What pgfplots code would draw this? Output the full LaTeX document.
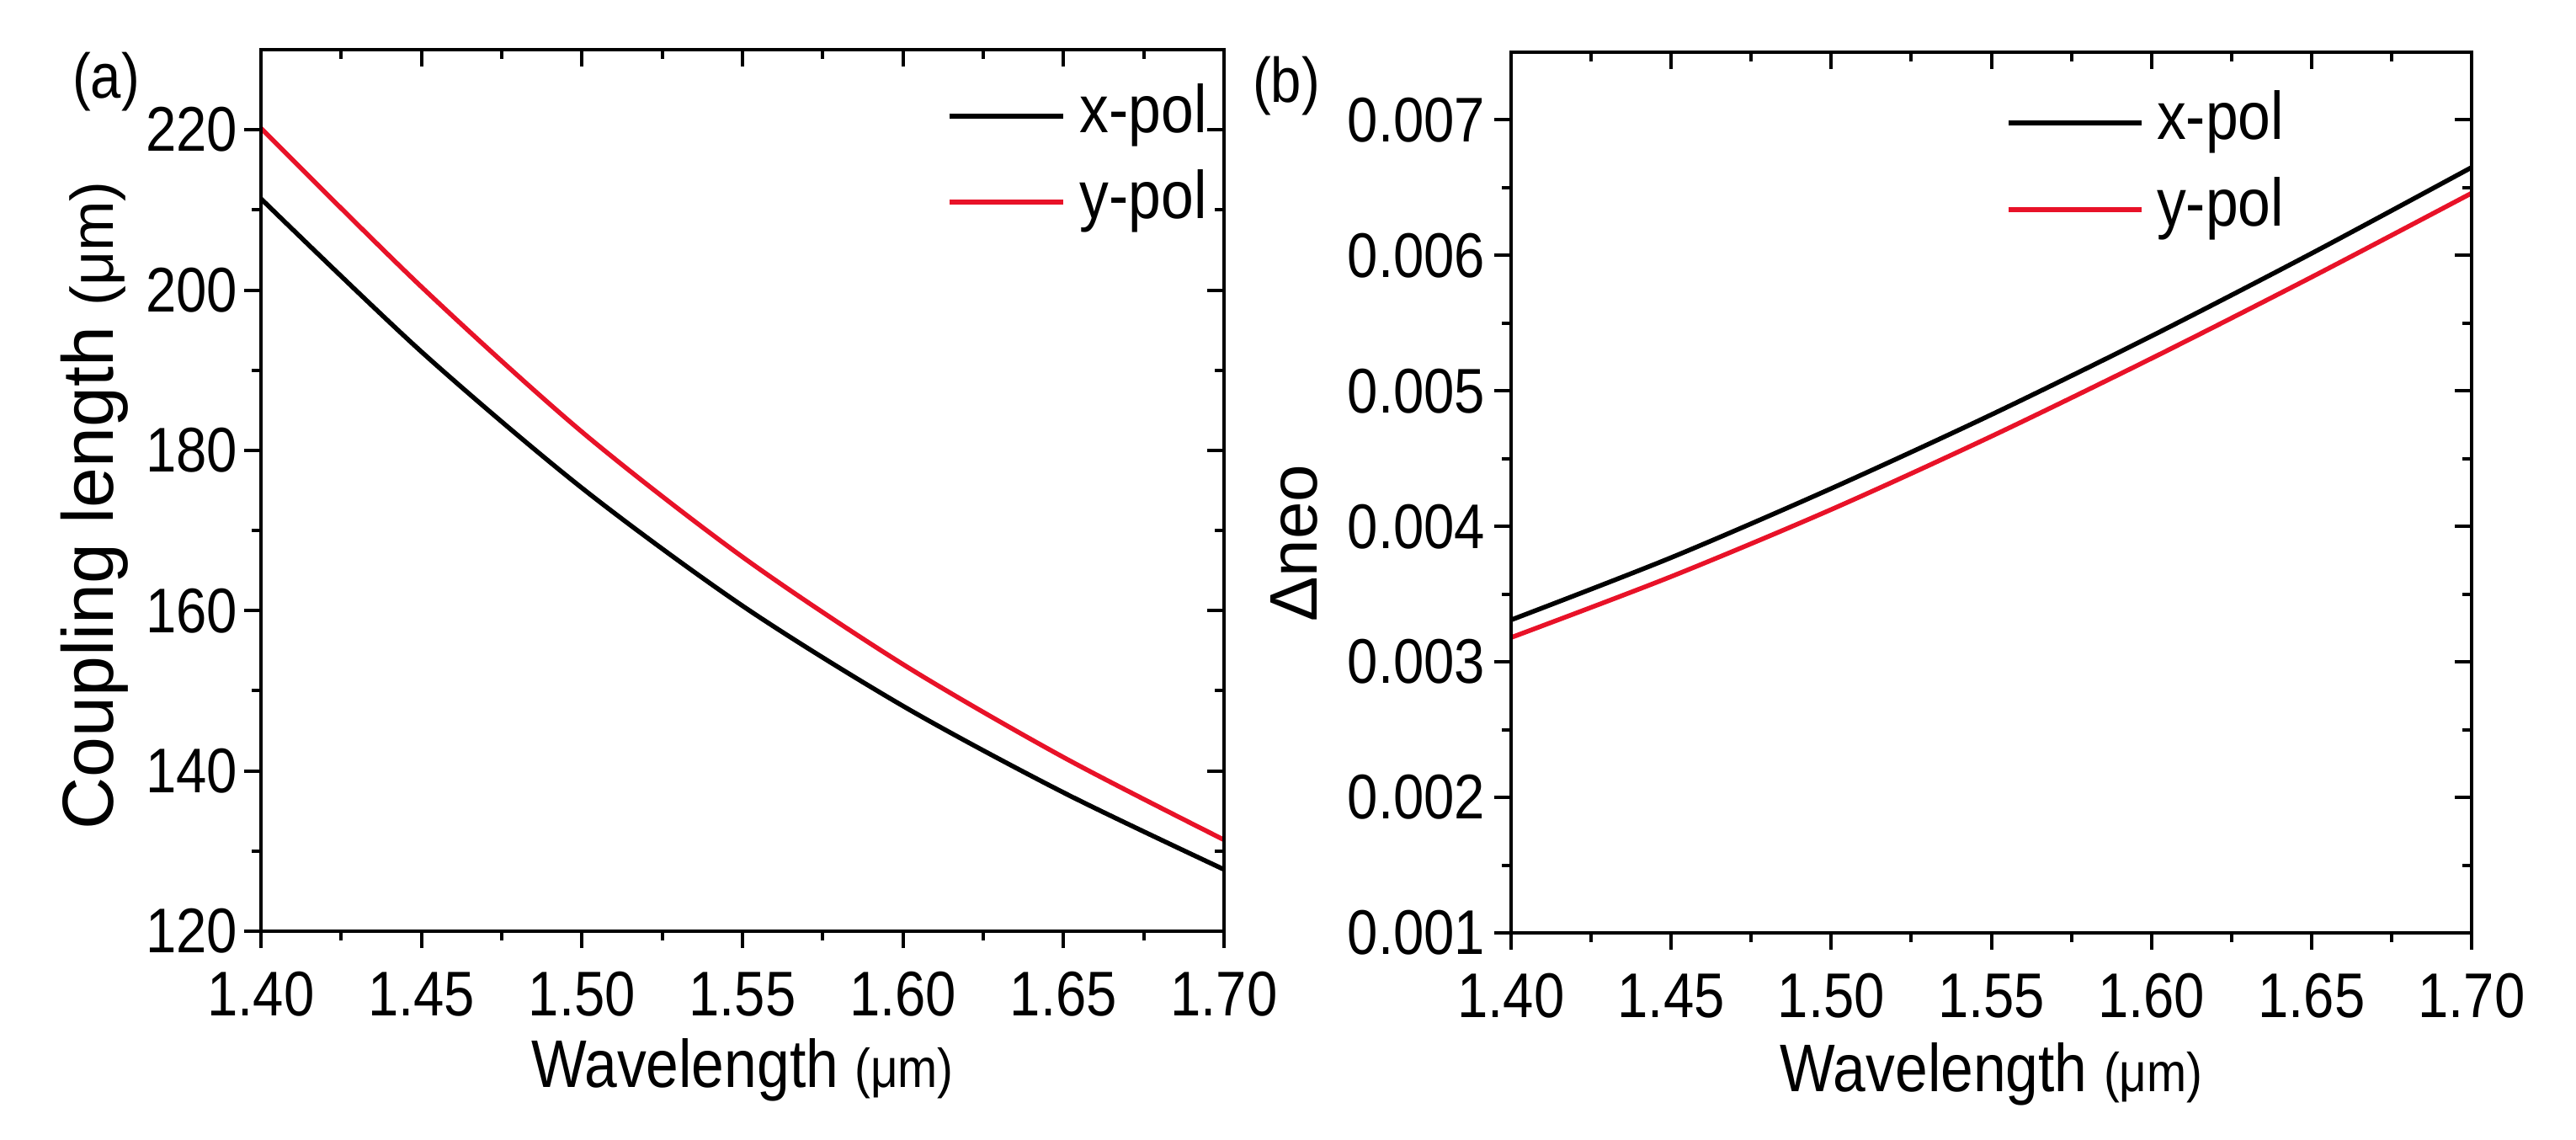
\documentclass[border=0pt]{standalone}
\usepackage{fontspec}
\setmainfont{Liberation Sans}[FakeStretch=0.87]
\newfontfamily\rotfont{Liberation Sans}
\usepackage{pgfplots}
\pgfplotsset{compat=1.18}
\definecolor{myred}{RGB}{232,18,40}

\pgfplotsset{
  base/.style={
    scale only axis, width=228.8pt, height=209.4pt,
    xmin=1.4, xmax=1.7,
    axis line style={line width=0.9pt},
    every tick/.style={line width=0.8pt, black},
    major tick length=4pt, minor tick length=2.2pt,
    minor x tick num=1, minor y tick num=1,
    clip=false,
    xtick={1.40,1.45,1.50,1.55,1.60,1.65,1.70},
    ticklabel style={font=\fontsize{15}{18}\selectfont},
  },
  lab/.style={
    /pgf/number format/assume math mode=true,
    xtick pos=left, ytick pos=left, tick align=outside,
    xticklabels={1.40,1.45,1.50,1.55,1.60,1.65,1.70},
    xticklabel style={inner sep=0pt, anchor=north, yshift=-5.5pt},
  },
  mirror/.style={
    xtick pos=right, ytick pos=right, tick align=inside,
    xticklabels={}, yticklabels={},
  },
  leg/.style 2 args={
    legend style={draw=none, fill=none, at={(axis description cs:#1)},
      anchor=north west, inner sep=0pt, row sep=#2,
      font=\fontsize{16}{19}\selectfont,
      nodes={inner sep=1pt, text height=12pt, text depth=4pt}},
    legend cell align=left,
  },
}

\begin{document}
\begin{tikzpicture}
\path[use as bounding box] (0,0) rectangle (612pt,270.6pt);

% ---------------- panel (a) ----------------
\begin{axis}[base, lab, at={(62pt,49.4pt)}, anchor=south west,
  ymin=120, ymax=230,
  ytick={120,140,160,180,200,220},
  yticklabels={120,140,160,180,200,220},
  yticklabel style={inner sep=0pt, anchor=east, xshift=-1.4pt},
  leg={0.7115,0.9685}{2.4pt},
  legend style={/tikz/every odd column/.append style={column sep=2.5pt}},
  legend image code/.code={\draw[#1] (0pt,0pt) -- (27pt,0pt);},
]
\addplot[black, line width=1.1pt, smooth] coordinates {
 (1.40,211.4) (1.45,192.3) (1.50,175.3) (1.55,160.6) (1.60,148.1) (1.65,137.3) (1.70,127.7)};
\addlegendentry{x-pol}
\addplot[myred, line width=1.1pt, smooth] coordinates {
 (1.40,220.2) (1.45,200.4) (1.50,182.3) (1.55,166.7) (1.60,153.3) (1.65,141.7) (1.70,131.4)};
\addlegendentry{y-pol}
\node[rotate=90, anchor=center] at (axis description cs:-0.173,0.483)
  {\rotfont\fontsize{17.2}{21}\selectfont Coupling length {\fontsize{14.3}{17}\selectfont(μm)}};
\node[anchor=center] at (axis description cs:0.5,-0.157)
  {\fontsize{16}{19}\selectfont Wavelength {\fontsize{13}{15}\selectfont(μm)}};
\end{axis}
\begin{axis}[base, mirror, at={(62pt,49.4pt)}, anchor=south west,
  ymin=120, ymax=230, ytick={120,140,160,180,200,220}]
\end{axis}

% ---------------- panel (b) ----------------
\begin{axis}[base, lab, at={(359pt,49pt)}, anchor=south west,
  width=228.2pt, height=209.2pt,
  ymin=0.001, ymax=0.0075,
  ytick={0.001,0.002,0.003,0.004,0.005,0.006,0.007},
  yticklabels={0.001,0.002,0.003,0.004,0.005,0.006,0.007},
  scaled y ticks=false,
  yticklabel style={inner sep=0pt, anchor=east, xshift=-2pt},
  leg={0.5145,0.9637}{2.6pt},
  legend style={/tikz/every odd column/.append style={column sep=2.1pt}},
  legend image code/.code={\draw[#1] (0pt,0pt) -- (31.6pt,0pt);},
]
\addplot[black, line width=1.1pt, smooth] coordinates {
 (1.40,0.00331) (1.45,0.00377) (1.50,0.00428) (1.55,0.004825) (1.60,0.005405) (1.65,0.006015) (1.70,0.00665)};
\addlegendentry{x-pol}
\addplot[myred, line width=1.1pt, smooth] coordinates {
 (1.40,0.00318) (1.45,0.00363) (1.50,0.004125) (1.55,0.004665) (1.60,0.00524) (1.65,0.00584) (1.70,0.00646)};
\addlegendentry{y-pol}
\node[rotate=90, anchor=center] at (axis description cs:-0.226,0.4425)
  {\rotfont\fontsize{16}{19}\selectfont Δneo};
\node[anchor=center] at (axis description cs:0.5,-0.160)
  {\fontsize{16}{19}\selectfont Wavelength {\fontsize{13}{15}\selectfont(μm)}};
\end{axis}
\begin{axis}[base, mirror, at={(359pt,49pt)}, anchor=south west,
  width=228.2pt, height=209.2pt,
  ymin=0.001, ymax=0.0075, scaled y ticks=false,
  ytick={0.001,0.002,0.003,0.004,0.005,0.006,0.007}]
\end{axis}

\node[anchor=center] at (25.2pt,251.2pt) {\fontsize{15}{18}\selectfont (a)};
\node[anchor=center] at (305.6pt,250.2pt) {\fontsize{15}{18}\selectfont (b)};
\end{tikzpicture}
\end{document}
